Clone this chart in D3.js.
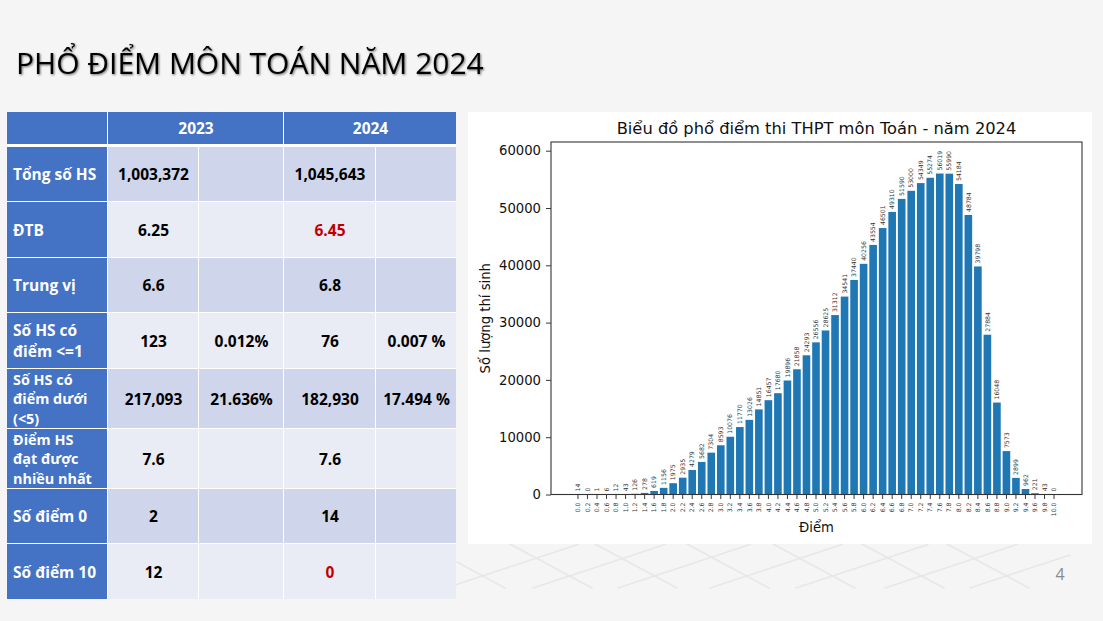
<!DOCTYPE html>
<html>
<head>
<meta charset="utf-8">
<script src="https://cdn.jsdelivr.net/npm/d3@7"></script>
<style>
  html, body { margin: 0; padding: 0; background: #f5f5f5; }
  svg { display: block; }
</style>
</head>
<body>
<div id="chart"></div>
<script>
const scoreLabels = ["0.0","0.2","0.4","0.6","0.8","1.0","1.2","1.4","1.6","1.8","2.0","2.2","2.4","2.6","2.8","3.0","3.2","3.4","3.6","3.8","4.0","4.2","4.4","4.6","4.8","5.0","5.2","5.4","5.6","5.8","6.0","6.2","6.4","6.6","6.8","7.0","7.2","7.4","7.6","7.8","8.0","8.2","8.4","8.6","8.8","9.0","9.2","9.4","9.6","9.8","10.0"];
const studentCounts = [14,0,1,6,12,43,126,278,619,1156,1975,2935,4279,5682,7304,8593,10076,11770,13026,14851,16457,17680,19896,21858,24293,26556,28625,31312,34541,37440,40256,43554,46501,49310,51590,53000,54349,55274,56019,55990,54184,48784,39798,27884,16048,7573,2899,962,221,43,0];
const yTicks = [0,10000,20000,30000,40000,50000,60000];

const rowLabels = [
    ["Tổng số HS"],
    ["ĐTB"],
    ["Trung vị"],
    ["Số HS có", "điểm <=1"],
    ["Số HS có", "điểm dưới", "(<5)"],
    ["Điểm HS", "đạt được", "nhiều nhất"],
    ["Số điểm 0"],
    ["Số điểm 10"]
];
const years = ["2023", "2024"];
const values2023 = ["1,003,372","6.25","6.6","123","217,093","7.6","2","12"];
const shares2023 = ["","","","0.012%","21.636%","","",""];
const values2024 = ["1,045,643","6.45","6.8","76","182,930","7.6","14","0"];
const shares2024 = ["","","","0.007 %","17.494 %","","",""];
const redValues2024 = ["6.45", "0"];

const width = 1103;
const height = 621;
const TABLE_FONT = "'Open Sans', sans-serif";
const CHART_FONT = "'DejaVu Sans', sans-serif";
const CELL_FONT_SIZE = 15.5;

const svg = d3.select("#chart")
    .append("svg")
    .attr("width", width)
    .attr("height", height);

svg.append("rect")
    .attr("width", width)
    .attr("height", height)
    .attr("fill", "#f5f5f5");

// faint lattice in the slide background
const lattice = svg.append("g")
    .attr("stroke", "#e7e7e7")
    .attr("stroke-width", 1.5)
    .attr("stroke-linecap", "round");
[483, 570, 655, 747, 833, 922, 1007].forEach(cx => {
    lattice.append("line")
        .attr("x1", cx - 37).attr("y1", 588)
        .attr("x2", Math.min(cx + 95, 1070)).attr("y2", Math.max(544, 588 - (Math.min(cx + 95, 1070) - cx + 37) * 0.33));
    lattice.append("line")
        .attr("x1", Math.max(cx - 60, 457)).attr("y1", 544 + (Math.max(cx - 60, 457) - cx + 60) * 0.53)
        .attr("x2", cx + 22).attr("y2", 588);
});

svg.append("text")
    .attr("x", 16)
    .attr("y", 74)
    .attr("font-family", TABLE_FONT)
    .attr("font-weight", 400)
    .attr("font-size", 30)
    .attr("fill", "#000")
    .style("filter", "drop-shadow(1.5px 1.5px 1.2px rgba(0,0,0,0.55))")
    .text("PHỔ ĐIỂM MÔN TOÁN NĂM 2024");

// table
const colEdges = [7, 108, 199, 284, 376, 457];
const rowEdges = [147, 202, 258, 313, 369, 429, 489, 544, 600];
const tableG = svg.append("g").attr("font-family", TABLE_FONT).attr("font-weight", 700);

tableG.append("rect")
    .attr("x", colEdges[0]).attr("y", 112)
    .attr("width", 449).attr("height", 487)
    .attr("fill", "#fff");

tableG.append("rect")
    .attr("x", colEdges[0]).attr("y", 112)
    .attr("width", colEdges[1] - colEdges[0] - 1).attr("height", 32)
    .attr("fill", "#4472c4");

years.forEach((year, i) => {
    const x0 = colEdges[1 + i * 2];
    const x1 = colEdges[3 + i * 2];
    tableG.append("rect")
        .attr("x", x0).attr("y", 112)
        .attr("width", x1 - x0 - 1).attr("height", 32)
        .attr("fill", "#4472c4");
    tableG.append("text")
        .attr("x", (x0 + x1) / 2)
        .attr("y", 128)
        .attr("dy", "0.36em")
        .attr("text-anchor", "middle")
        .attr("font-size", CELL_FONT_SIZE)
        .attr("fill", "#fff")
        .text(year);
});

const columns = [values2023, shares2023, values2024, shares2024];

rowLabels.forEach((lines, r) => {
    const y0 = rowEdges[r];
    const y1 = rowEdges[r + 1];
    const cy = (y0 + y1) / 2;
    // three-line labels only just fit their row
    const lineHeight = lines.length > 2 ? 19.6 : 21;
    const labelSize = lines.length > 2 ? 14.4 : CELL_FONT_SIZE;

    tableG.append("rect")
        .attr("x", colEdges[0]).attr("y", y0)
        .attr("width", colEdges[1] - colEdges[0] - 1).attr("height", y1 - y0 - 1)
        .attr("fill", "#4472c4");

    lines.forEach((line, l) => {
        tableG.append("text")
            .attr("x", 13)
            .attr("y", cy + (l - (lines.length - 1) / 2) * lineHeight)
            .attr("dy", "0.36em")
            .attr("font-size", labelSize)
            .attr("fill", "#fff")
            .text(line);
    });

    columns.forEach((col, c) => {
        const x0 = colEdges[c + 1];
        const x1 = colEdges[c + 2];
        tableG.append("rect")
            .attr("x", x0).attr("y", y0)
            .attr("width", x1 - x0 - 1).attr("height", y1 - y0 - 1)
            .attr("fill", r % 2 === 0 ? "#cfd5ea" : "#e9ebf5");
        if (col[r] === "") return;
        tableG.append("text")
            .attr("x", (x0 + x1) / 2)
            .attr("y", cy)
            .attr("dy", "0.36em")
            .attr("text-anchor", "middle")
            .attr("font-size", CELL_FONT_SIZE)
            .attr("fill", c === 2 && redValues2024.includes(col[r]) ? "#c00000" : "#000")
            .text(col[r]);
    });
});

// chart panel
svg.append("rect")
    .attr("x", 468).attr("y", 112)
    .attr("width", 624).attr("height", 432)
    .attr("fill", "#fff");

const plot = { left: 551, right: 1082, top: 142, bottom: 494.5 };

const x = d3.scaleBand()
    .domain(scoreLabels)
    .range([573.2, 1058.8])
    .paddingInner(0.2)
    .paddingOuter(0.1);

const y = d3.scaleLinear()
    .domain([0, 60000])
    .range([plot.bottom, 150.7]);

const chartG = svg.append("g").attr("font-family", CHART_FONT);

chartG.selectAll("rect.bar")
    .data(scoreLabels)
    .enter()
    .append("rect")
    .attr("class", "bar")
    .attr("x", d => x(d))
    .attr("y", (d, i) => y(studentCounts[i]))
    .attr("width", x.bandwidth())
    .attr("height", (d, i) => plot.bottom - y(studentCounts[i]))
    .attr("fill", "#1f77b4");

chartG.selectAll("text.count")
    .data(scoreLabels)
    .enter()
    .append("text")
    .attr("class", "count")
    .attr("transform", (d, i) => `translate(${x(d) + x.bandwidth() / 2},${y(studentCounts[i]) - 3}) rotate(-90)`)
    .attr("dy", "0.35em")
    .attr("font-size", 6.2)
    .attr("fill", "#333")
    .text((d, i) => studentCounts[i]);

const xAxis = chartG.append("g")
    .attr("transform", `translate(0,${plot.bottom})`)
    .call(d3.axisBottom(x).tickSize(4.5).tickSizeOuter(0));
xAxis.select(".domain").remove();
xAxis.selectAll("line").attr("stroke", "#222").attr("stroke-width", 0.9);
xAxis.selectAll("text")
    .attr("transform", "rotate(-90)")
    .attr("x", -8)
    .attr("y", 0)
    .attr("dy", "0.35em")
    .attr("text-anchor", "end")
    .attr("font-family", CHART_FONT)
    .attr("font-size", 6.2)
    .attr("fill", "#333");

const yAxis = chartG.append("g")
    .attr("transform", `translate(${plot.left},0)`)
    .call(d3.axisLeft(y).tickValues(yTicks).tickFormat(d3.format("d")).tickSize(5).tickPadding(5));
yAxis.select(".domain").remove();
yAxis.selectAll("line").attr("stroke", "#222").attr("stroke-width", 0.9);
yAxis.selectAll("text")
    .attr("font-family", CHART_FONT)
    .attr("font-size", 13.2)
    .attr("fill", "#111");

chartG.append("rect")
    .attr("x", plot.left).attr("y", plot.top)
    .attr("width", plot.right - plot.left).attr("height", plot.bottom - plot.top)
    .attr("fill", "none")
    .attr("stroke", "#333")
    .attr("stroke-width", 1.1);

chartG.append("text")
    .attr("x", (plot.left + plot.right) / 2)
    .attr("y", 134)
    .attr("text-anchor", "middle")
    .attr("font-size", 16.3)
    .attr("fill", "#111")
    .text("Biểu đồ phổ điểm thi THPT môn Toán - năm 2024");

chartG.append("text")
    .attr("x", (plot.left + plot.right) / 2)
    .attr("y", 532)
    .attr("text-anchor", "middle")
    .attr("font-size", 13.2)
    .attr("fill", "#111")
    .text("Điểm");

chartG.append("text")
    .attr("transform", `translate(490,${(plot.top + plot.bottom) / 2}) rotate(-90)`)
    .attr("text-anchor", "middle")
    .attr("font-size", 13.2)
    .attr("fill", "#111")
    .text("Số lượng thí sinh");

svg.append("text")
    .attr("x", 1060)
    .attr("y", 580)
    .attr("text-anchor", "middle")
    .attr("font-family", TABLE_FONT)
    .attr("font-size", 16)
    .attr("fill", "#8a8a8a")
    .text("4");
</script>
</body>
</html>
